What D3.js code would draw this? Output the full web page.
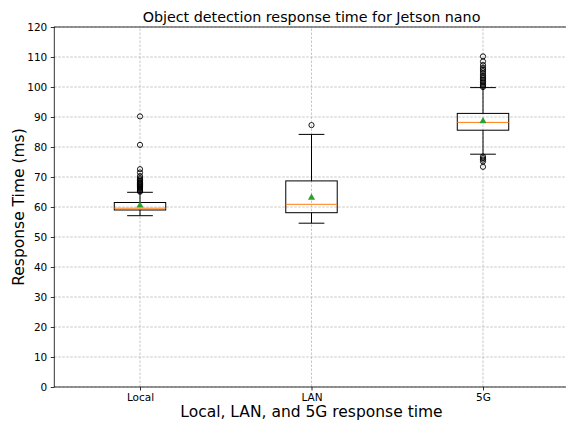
<!DOCTYPE html>
<html>
<head>
<meta charset="utf-8">
<script src="https://cdn.jsdelivr.net/npm/d3@7"></script>
<title>Response time boxplot</title>
<style>
body { margin: 0; background: #fff; }
text { font-family: "DejaVu Sans", sans-serif; }
</style>
</head>
<body>
<script>

var categories = ["Local", "LAN", "5G"];
var q1 = [59.0, 58.1, 85.6];
var medians = [59.6, 60.9, 88.2];
var q3 = [61.5, 68.7, 91.2];
var whiskLow = [57.1, 54.6, 77.6];
var whiskHigh = [64.9, 84.2, 99.8];
var means = [60.5, 63.1, 88.6];
var outliers = [
  [65.1, 65.4, 65.7, 66.0, 66.3, 66.6, 66.9, 67.2, 67.5, 67.8, 68.1, 68.4, 68.8, 69.2, 69.6, 70.3, 71.5, 72.6, 80.7, 90.2],
  [87.3],
  [73.4, 75.2, 75.8, 76.3, 76.8, 100.0, 100.4, 100.9, 101.4, 101.9, 102.4, 102.9, 103.4, 103.9, 104.6, 105.3, 105.9, 106.4, 107.3, 108.5, 110.2]
];
var yTicks = [0, 10, 20, 30, 40, 50, 60, 70, 80, 90, 100, 110, 120];

var width = 566,
    height = 421;

var svg = d3.select("body")
  .append("svg")
  .attr("width", width)
  .attr("height", height);

var x = d3.scaleLinear().domain([0.5, 3.5]).range([54.25, 568.75]);
var y = d3.scaleLinear().domain([0, 120]).range([387, 27]);

// grid
svg.append("g")
  .selectAll("line")
  .data(yTicks)
  .enter()
  .append("line")
  .attr("x1", x(0.5)).attr("x2", x(3.5))
  .attr("y1", function(d) { return y(d); })
  .attr("y2", function(d) { return y(d); })
  .attr("stroke", "#b0b0b0")
  .attr("stroke-width", 0.7)
  .attr("stroke-dasharray", "2.5,1.5");

svg.append("g")
  .selectAll("line")
  .data(categories)
  .enter()
  .append("line")
  .attr("x1", function(d, i) { return x(i + 1); })
  .attr("x2", function(d, i) { return x(i + 1); })
  .attr("y1", y(0)).attr("y2", y(120))
  .attr("stroke", "#b0b0b0")
  .attr("stroke-width", 0.7)
  .attr("stroke-dasharray", "2.5,1.5");

// axes
var yAxis = svg.append("g")
  .attr("transform", "translate(" + x(0.5) + ",0)")
  .call(d3.axisLeft(y).tickValues(yTicks).tickSize(3.5).tickPadding(3.5));

var xAxis = svg.append("g")
  .attr("transform", "translate(0," + y(0) + ")")
  .call(d3.axisBottom(x).tickValues([1, 2, 3])
    .tickFormat(function(d) { return categories[d - 1]; })
    .tickSize(3.5).tickPadding(3.5));

[yAxis, xAxis].forEach(function(a) {
  a.select(".domain").remove();
  a.selectAll("text").attr("font-size", 10.5).attr("fill", "#000")
    .style("font-family", "DejaVu Sans, sans-serif");
  a.selectAll("line").attr("stroke", "#000").attr("stroke-width", 0.8);
});

// spines
svg.append("rect")
  .attr("x", x(0.5)).attr("y", y(120))
  .attr("width", x(3.5) - x(0.5)).attr("height", y(0) - y(120))
  .attr("fill", "none")
  .attr("stroke", "#000")
  .attr("stroke-width", 0.8);

// boxes
var half = 0.15;
var boxes = svg.append("g")
  .selectAll("g")
  .data(categories)
  .enter()
  .append("g");

boxes.append("line")
  .attr("x1", function(d, i) { return x(i + 1); })
  .attr("x2", function(d, i) { return x(i + 1); })
  .attr("y1", function(d, i) { return y(whiskLow[i]); })
  .attr("y2", function(d, i) { return y(q1[i]); })
  .attr("stroke", "#000");

boxes.append("line")
  .attr("x1", function(d, i) { return x(i + 1); })
  .attr("x2", function(d, i) { return x(i + 1); })
  .attr("y1", function(d, i) { return y(q3[i]); })
  .attr("y2", function(d, i) { return y(whiskHigh[i]); })
  .attr("stroke", "#000");

[whiskLow, whiskHigh].forEach(function(arr) {
  boxes.append("line")
    .attr("x1", function(d, i) { return x(i + 1 - half / 2); })
    .attr("x2", function(d, i) { return x(i + 1 + half / 2); })
    .attr("y1", function(d, i) { return y(arr[i]); })
    .attr("y2", function(d, i) { return y(arr[i]); })
    .attr("stroke", "#000");
});

boxes.append("rect")
  .attr("x", function(d, i) { return x(i + 1 - half); })
  .attr("width", x(1 + half) - x(1 - half))
  .attr("y", function(d, i) { return y(q3[i]); })
  .attr("height", function(d, i) { return y(q1[i]) - y(q3[i]); })
  .attr("fill", "none")
  .attr("stroke", "#000");

boxes.append("line")
  .attr("x1", function(d, i) { return x(i + 1 - half); })
  .attr("x2", function(d, i) { return x(i + 1 + half); })
  .attr("y1", function(d, i) { return y(medians[i]); })
  .attr("y2", function(d, i) { return y(medians[i]); })
  .attr("stroke", "#ff7f0e");

boxes.append("path")
  .attr("d", d3.symbol().type(d3.symbolTriangle).size(22))
  .attr("transform", function(d, i) { return "translate(" + x(i + 1) + "," + y(means[i]) + ")"; })
  .attr("fill", "#2ca02c");

boxes.each(function(d, i) {
  d3.select(this).selectAll("circle")
    .data(outliers[i])
    .enter()
    .append("circle")
    .attr("cx", x(i + 1))
    .attr("cy", function(v) { return y(v); })
    .attr("r", 2.6)
    .attr("fill", "none")
    .attr("stroke", "#000")
    .attr("stroke-width", 0.9);
});

// labels
svg.append("text")
  .attr("x", (x(0.5) + x(3.5)) / 2)
  .attr("y", 22)
  .attr("text-anchor", "middle")
  .attr("font-size", 14.3)
  .text("Object detection response time for Jetson nano");

svg.append("text")
  .attr("x", (x(0.5) + x(3.5)) / 2)
  .attr("y", 417)
  .attr("text-anchor", "middle")
  .attr("font-size", 15.5)
  .text("Local, LAN, and 5G response time");

svg.append("text")
  .attr("transform", "translate(23.5," + (y(60)) + ") rotate(-90)")
  .attr("text-anchor", "middle")
  .attr("font-size", 15.5)
  .text("Response Time (ms)");

</script>
</body>
</html>
